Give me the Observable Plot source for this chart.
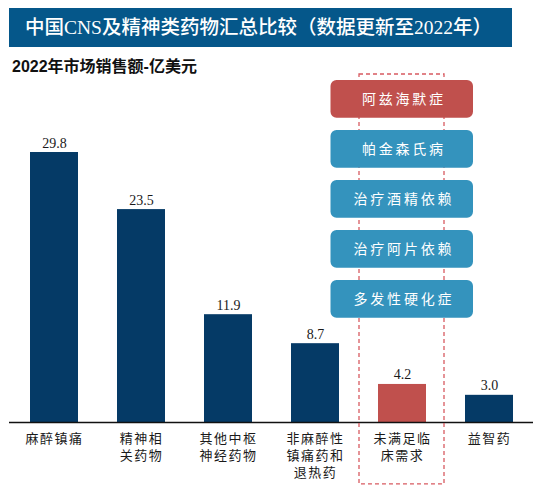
<!DOCTYPE html>
<html>
<head>
<meta charset="utf-8">
<script src="https://cdn.jsdelivr.net/npm/d3@7"></script>
<script src="https://cdn.jsdelivr.net/npm/@observablehq/plot@0.6"></script>
<style>
  body { margin: 0; background: #fff; }
  #wrap { position: relative; width: 546px; height: 501px; overflow: hidden; }
  #title {
    position: absolute; left: 9px; top: 8px; width: 503px; height: 39px;
    background: #05578A; color: #fff;
    font: 500 19.5px "Liberation Serif", "Noto Sans CJK SC", serif;
    line-height: 39px; padding-left: 16px; box-sizing: border-box; white-space: nowrap;
  }
  #sub {
    position: absolute; left: 12px; top: 57px;
    font: bold 16px "Liberation Sans", "Noto Sans CJK SC", sans-serif;
    line-height: 20px; color: #111; white-space: nowrap;
  }
  #chart { position: absolute; left: 0; top: 52px; }
</style>
</head>
<body>
<div id="wrap">
  <div id="title">中国CNS及精神类药物汇总比较（数据更新至2022年）</div>
  <div id="sub">2022年市场销售额-亿美元</div>
  <div id="chart"></div>
</div>
<script>
// 2022年市场销售额（亿美元）
const categories = ["麻醉镇痛", "精神相关药物", "其他中枢神经药物", "非麻醉性镇痛药和退热药", "未满足临床需求", "益智药"];
const tickLabels = ["麻醉镇痛", "精神相\n关药物", "其他中枢\n神经药物", "非麻醉性\n镇痛药和\n退热药", "未满足临\n床需求", "益智药"];
const sales = [29.8, 23.5, 11.9, 8.7, 4.2, 3.0];
const highlight = "未满足临床需求";

// 未满足临床需求 -> 疾病
const diseases = ["阿兹海默症", "帕金森氏病", "治疗酒精依赖", "治疗阿片依赖", "多发性硬化症"];
const diseaseHot = [true, false, false, false, false];

const navy = "#053A66", red = "#C0504D", teal = "#3493BD";

const data = categories.map((c, i) => ({cat: c, value: sales[i]}));
const labelOf = new Map(categories.map((c, i) => [c, tickLabels[i]]));

// annotation column layout (in y units, stacked above the highlighted bar)
const boxTop = 37.75, boxStep = 5.52, boxH = 4.16;
const boxes = diseases.map((name, i) => ({
  name,
  hot: diseaseHot[i],
  y2: boxTop - i * boxStep,
  y1: boxTop - i * boxStep - boxH
}));

const chart = Plot.plot({
  width: 546,
  height: 449,
  marginLeft: 9,
  marginRight: 13,
  marginTop: 98.2,
  marginBottom: 79,
  x: {domain: categories, paddingInner: 0.45, paddingOuter: 0.225, label: null},
  y: {domain: [0, 30], axis: null},
  style: {fontFamily: "'Liberation Serif', 'Noto Sans CJK SC', serif", background: "transparent"},
  marks: [
    Plot.barY(data, {
      x: "cat", y: "value",
      fill: d => d.cat === highlight ? red : navy
    }),
    Plot.text(data, {
      x: "cat", y: "value",
      text: d => d.value.toFixed(1),
      lineAnchor: "bottom", dy: -5,
      fontSize: 14, fill: "#1a1a1a"
    }),
    Plot.ruleY([0], {stroke: "#111", strokeWidth: 1.4}),
    // dashed frame around the unmet-need column
    Plot.barY([highlight], {
      x: d => d, y1: -6.84, y2: 38.41,
      fill: "none", stroke: "#D85A60", strokeWidth: 1.3, strokeDasharray: "4,3",
      insetLeft: -19, insetRight: -18
    }),
    Plot.barY(boxes, {
      x: () => highlight, y1: "y1", y2: "y2",
      fill: d => d.hot ? red : teal, rx: 6,
      insetLeft: -47.5, insetRight: -47
    }),
    Plot.text(boxes, {
      x: () => highlight, y: d => (d.y1 + d.y2) / 2,
      text: "name", fill: "#fff", fontSize: 14, dx: 1.4,
      className: "dz"
    }),
    Plot.axisX({
      tickSize: 0, tickPadding: 8, fontSize: 13, lineHeight: 1.33,
      tickFormat: d => labelOf.get(d),
      fill: "#1a1a1a", className: "xt"
    })
  ]
});

d3.select("#chart").append(() => chart);
d3.select(chart).selectAll(".dz text").style("letter-spacing", "2.8px");
d3.select(chart).selectAll(".xt text").style("letter-spacing", "1.5px");
</script>
</body>
</html>
